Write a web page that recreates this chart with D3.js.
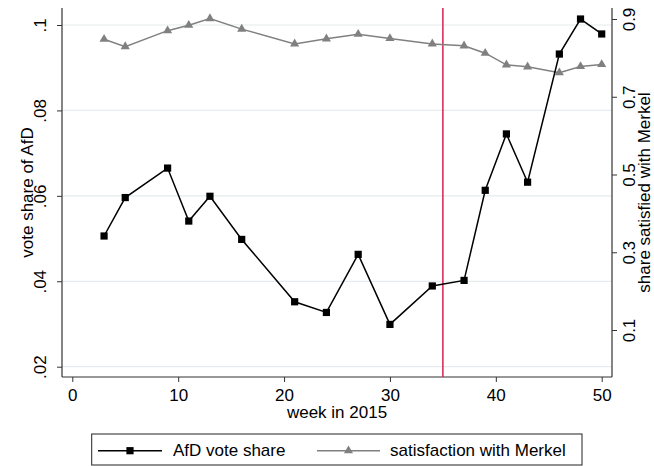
<!DOCTYPE html>
<html><head><meta charset="utf-8">
<script src="https://cdn.jsdelivr.net/npm/d3@7"></script>
<style>
body{margin:0;background:#fff}
text{font-family:"Liberation Sans",Arial,Helvetica,sans-serif}
</style>
</head><body>
<svg id="c" width="654" height="466"></svg>
<script>
const weeks = [3,5,9,11,13,16,21,24,27,30,34,37,39,41,43,46,48,50];
const afdShare = [0.0506,0.0596,0.0665,0.0541,0.0599,0.0498,0.0352,0.0327,0.0463,0.0299,0.0389,0.0402,0.0613,0.0745,0.0632,0.0932,0.1014,0.0979];
const merkelSat = [0.848,0.829,0.870,0.884,0.901,0.874,0.836,0.849,0.861,0.850,0.836,0.831,0.812,0.782,0.777,0.762,0.778,0.783];
const xTicks = [0,10,20,30,40,50];
const leftTicks = [0.02,0.04,0.06,0.08,0.1];
const leftTickLabels = [".02",".04",".06",".08",".1"];
const rightTicks = [0.1,0.3,0.5,0.7,0.9];
const rightTickLabels = ["0.1","0.3","0.5","0.7","0.9"];
const eventWeek = [35];
const seriesNames = ["AfD vote share","satisfaction with Merkel"];
const axisTitles = {x:"week in 2015", left:"vote share of AfD", right:"share satisfied with Merkel"};

const svg = d3.select("#c");
const P = {l:62, r:612, t:8, b:377};
const FS = "17px";
const axisCol = "#333";

const x = d3.scaleLinear().domain([0,50]).range([72.3,601.7]);
const yL = d3.scaleLinear().domain([0.02,0.1]).range([366.7,25]);
const yR = d3.scaleLinear().domain([0.1,0.9]).range([330,19]);

// grid
svg.append("g").selectAll("line").data(leftTicks).join("line")
  .attr("x1",P.l).attr("x2",P.r)
  .attr("y1",d=>yL(d)).attr("y2",d=>yL(d))
  .attr("stroke","#e4ecee").attr("stroke-width",1.2);

// axes
function styleAxis(g){
  g.select(".domain").remove();
  g.selectAll(".tick line").attr("stroke",axisCol).attr("stroke-width",1);
  g.selectAll(".tick text").attr("fill","#000").style("font-size",FS);
}
const gx = svg.append("g").attr("transform",`translate(0,${P.b})`)
  .call(d3.axisBottom(x).tickValues(xTicks).tickSize(5).tickFormat(d3.format("d")));
styleAxis(gx);
gx.selectAll(".tick text").attr("y",23.5).attr("dy",0);

const gl = svg.append("g").attr("transform",`translate(${P.l},0)`)
  .call(d3.axisLeft(yL).tickValues(leftTicks).tickSize(5).tickFormat((d,i)=>leftTickLabels[i]));
styleAxis(gl);
gl.selectAll(".tick text").attr("transform","rotate(-90)").attr("x",0).attr("y",-16.3).attr("dy",0).attr("text-anchor","middle");

const gr = svg.append("g").attr("transform",`translate(${P.r},0)`)
  .call(d3.axisRight(yR).tickValues(rightTicks).tickSize(5).tickFormat((d,i)=>rightTickLabels[i]));
styleAxis(gr);
gr.selectAll(".tick text").attr("transform","rotate(-90)").attr("x",0).attr("y",22.5).attr("dy",0).attr("text-anchor","middle");

// axis lines
svg.append("line").attr("x1",P.l).attr("x2",P.l).attr("y1",P.t).attr("y2",P.b).attr("stroke",axisCol).attr("stroke-width",1.2);
svg.append("line").attr("x1",P.r).attr("x2",P.r).attr("y1",P.t).attr("y2",P.b).attr("stroke",axisCol).attr("stroke-width",1.2);
svg.append("line").attr("x1",P.l).attr("x2",P.r).attr("y1",P.b).attr("y2",P.b).attr("stroke",axisCol).attr("stroke-width",1.2);

// axis titles
svg.append("text").attr("x",(P.l+P.r)/2).attr("y",418.3).attr("text-anchor","middle").style("font-size",FS).text(axisTitles.x);
svg.append("text").attr("transform",`translate(33,${(P.t+P.b)/2}) rotate(-90)`).attr("text-anchor","middle").style("font-size",FS).text(axisTitles.left);
svg.append("text").attr("transform",`translate(650,${(P.t+P.b)/2}) rotate(-90)`).attr("text-anchor","middle").style("font-size",FS).text(axisTitles.right);

// event line
svg.append("g").selectAll("line").data(eventWeek).join("line")
  .attr("x1",d=>x(d)).attr("x2",d=>x(d)).attr("y1",P.t).attr("y2",P.b)
  .attr("stroke","#dc1e50").attr("stroke-width",1.5);

const grey = "#808080";
const afd = weeks.map((w,i)=>({w,v:afdShare[i]}));
const mer = weeks.map((w,i)=>({w,v:merkelSat[i]}));

// Merkel series
svg.append("path").datum(mer)
  .attr("d",d3.line().x(d=>x(d.w)).y(d=>yR(d.v)))
  .attr("fill","none").attr("stroke",grey).attr("stroke-width",1.5);
const tri = d3.symbol(d3.symbolTriangle,36);
svg.append("g").selectAll("path").data(mer).join("path")
  .attr("transform",d=>`translate(${x(d.w)},${yR(d.v)})`).attr("d",tri).attr("fill",grey);

// AfD series
svg.append("path").datum(afd)
  .attr("d",d3.line().x(d=>x(d.w)).y(d=>yL(d.v)))
  .attr("fill","none").attr("stroke","#000").attr("stroke-width",1.5);
const sq = d3.symbol(d3.symbolSquare,52);
svg.append("g").selectAll("path").data(afd).join("path")
  .attr("transform",d=>`translate(${x(d.w)},${yL(d.v)})`).attr("d",sq).attr("fill","#000");

// legend
const lg = svg.append("g");
lg.append("rect").attr("x",91.7).attr("y",434).attr("width",490.3).attr("height",31)
  .attr("fill","#fff").attr("stroke","#222").attr("stroke-width",1);
const items = [
  {name:seriesNames[0], x0:98, x1:162, tx:173, col:"#000", sym:sq},
  {name:seriesNames[1], x0:317, x1:380, tx:390, col:grey, sym:tri}
];
const ly = 450.7;
items.forEach(it=>{
  lg.append("line").attr("x1",it.x0).attr("x2",it.x1).attr("y1",ly).attr("y2",ly).attr("stroke",it.col).attr("stroke-width",1.5);
  lg.append("path").attr("transform",`translate(${(it.x0+it.x1)/2},${ly})`).attr("d",it.sym).attr("fill",it.col);
  lg.append("text").attr("x",it.tx).attr("y",456).style("font-size",FS).text(it.name);
});
</script>
</body></html>
